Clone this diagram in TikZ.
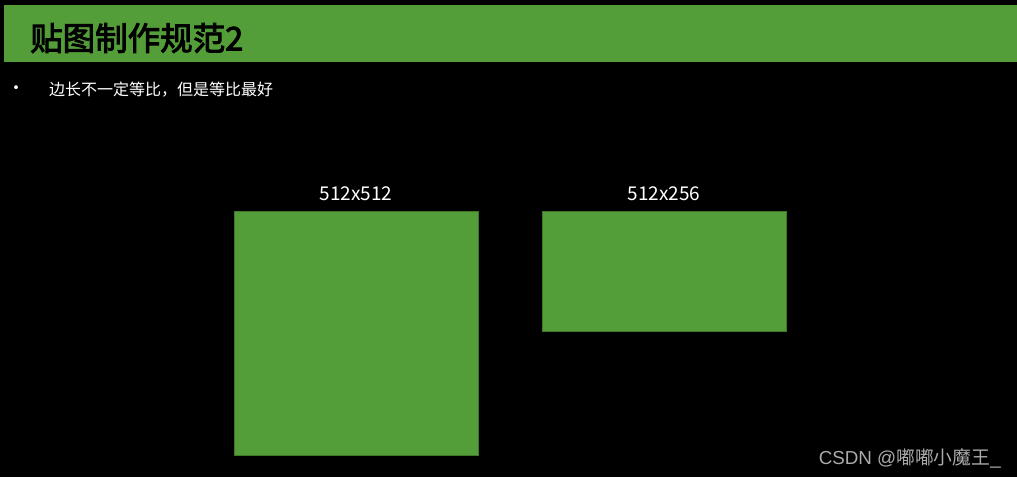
\documentclass[tikz,border=0pt]{standalone}
\usepackage{fontspec}
\usepackage{xcolor}
\usepackage{tikz}
\usetikzlibrary{positioning}
\newfontfamily\cjk{Noto Sans CJK SC}
\newfontfamily\cjkbold[FakeBold=3]{Noto Sans CJK SC}
\newfontfamily\wmfont{Liberation Sans}
\definecolor{barGreen}{RGB}{84,158,57}
\definecolor{edgeGreen}{RGB}{62,118,42}
\definecolor{wmGray}{RGB}{170,170,170}

\begin{document}
\begin{tikzpicture}[
    x=1pt, y=-1pt,
    node distance=10pt,
    texture/.style={
        draw=edgeGreen,
        fill=barGreen,
        line width=1pt,
        minimum width=244pt,
        inner sep=0pt
    },
    sizelabel/.style={
        text=white,
        inner sep=0pt,
        font=\cjk\fontsize{19}{22}\selectfont
    }
]

\fill[black] (0,0) rectangle (1017,477);
\useasboundingbox (0,0) rectangle (1017,477);

\node[fill=barGreen, minimum width=1013pt, minimum height=57pt, inner sep=0pt, anchor=north west] (bar) at (4,5) {};
\node[anchor=west, inner sep=0pt, font=\cjkbold\fontsize{32.5}{36}\selectfont] (title) at (30,38) {贴图制作规范2};

\node[text=white, inner sep=0pt, font=\cjk\fontsize{18}{20}\selectfont] (dot) at (16,90) {•};
\node[text=white, inner sep=0pt, anchor=west, font=\cjk\fontsize{16}{19}\selectfont] (note) at (49,90) {边长不一定等比，但是等比最好};

\node[texture, minimum height=244pt, anchor=north west] (square) at (233.5,211) {};
\node[texture, minimum height=120pt, anchor=north west] (rect) at (541.5,211) {};

\node[sizelabel, above=of square] (sqlabel) {512x512};
\node[sizelabel, above=of rect] (rectlabel) {512x256};

\node[anchor=east, inner sep=0pt, text=wmGray, font=\fontsize{18.8}{22}\selectfont] (mark) at (1001,458) {\wmfont CSDN @\cjk 嘟嘟小魔王\wmfont \_};

\end{tikzpicture}
\end{document}
